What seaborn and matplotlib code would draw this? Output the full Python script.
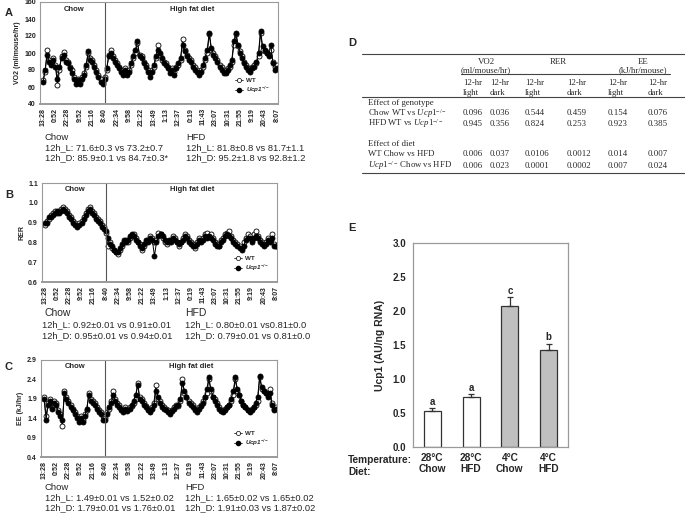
import numpy as np
import pandas as pd
import matplotlib
matplotlib.use("Agg")
import matplotlib.pyplot as plt
from matplotlib.lines import Line2D
import seaborn as sns

# --- dados das séries (leitura aproximada da figura) ---
time_labels = ["13:28", "0:52", "22:28", "9:52", "21:16", "8:40", "22:34", "9:58",
               "21:22", "13:49", "1:13", "12:37", "0:19", "11:43", "23:07", "10:31",
               "21:55", "9:19", "20:43", "8:07"]

vo2_wt = [68, 78, 104, 92, 88, 94,
          86, 62, 80, 96, 101, 92,
          90, 84, 80, 72, 68, 70,
          66, 72, 76, 84, 100, 94,
          92, 86, 80, 74, 70, 66,
          72, 80, 98, 104, 96, 92,
          88, 84, 80, 78, 82, 76,
          80, 86, 94, 100, 112, 98,
          96, 90, 86, 80, 76, 80,
          84, 94, 110, 98, 92, 90,
          88, 84, 80, 82, 78, 84,
          86, 92, 117, 104, 98, 94,
          92, 86, 84, 80, 76, 80,
          84, 92, 100, 122, 104, 100,
          96, 92, 86, 84, 80, 78,
          82, 84, 90, 110, 122, 108,
          102, 96, 90, 86, 82, 80,
          84, 86, 88, 96, 124, 104,
          102, 100, 98, 104, 90, 84,
          86]
vo2_ko = [66, 80, 98, 90, 86, 92,
          84, 70, 84, 94, 98, 90,
          88, 82, 76, 70, 64, 68,
          64, 70, 74, 86, 102, 92,
          90, 84, 78, 72, 66, 64,
          70, 82, 96, 100, 94, 90,
          86, 82, 78, 74, 80, 74,
          78, 88, 96, 104, 114, 96,
          94, 88, 84, 78, 72, 78,
          86, 96, 104, 100, 94, 88,
          86, 82, 76, 80, 74, 82,
          88, 94, 110, 102, 96, 92,
          90, 84, 80, 78, 74, 78,
          86, 94, 104, 124, 106, 98,
          94, 90, 84, 80, 76, 76,
          80, 86, 92, 114, 124, 110,
          100, 94, 88, 84, 80, 78,
          82, 84, 90, 100, 126, 108,
          104, 100, 96, 110, 88, 80,
          82]

rer_wt = [0.89, 0.91, 0.92, 0.94, 0.95, 0.96,
          0.95, 0.96, 0.97, 0.98, 0.97, 0.96,
          0.94, 0.93, 0.91, 0.90, 0.89, 0.90,
          0.91, 0.93, 0.95, 0.97, 0.98, 0.96,
          0.95, 0.93, 0.92, 0.91, 0.89, 0.88,
          0.85, 0.78, 0.80, 0.77, 0.76, 0.75,
          0.74, 0.76, 0.78, 0.80, 0.81, 0.80,
          0.82, 0.83, 0.84, 0.82, 0.80, 0.79,
          0.76, 0.78, 0.80, 0.81, 0.83, 0.82,
          0.80, 0.81, 0.85, 0.84, 0.82, 0.80,
          0.79, 0.80, 0.81, 0.83, 0.82, 0.80,
          0.78, 0.80, 0.82, 0.84, 0.83, 0.81,
          0.80, 0.79, 0.77, 0.80, 0.82, 0.81,
          0.82, 0.84, 0.85, 0.83, 0.84, 0.82,
          0.80, 0.79, 0.78, 0.81, 0.82, 0.84,
          0.85, 0.86, 0.83, 0.81, 0.80, 0.79,
          0.78, 0.77, 0.80, 0.82, 0.84, 0.83,
          0.81, 0.84, 0.86, 0.83, 0.81, 0.80,
          0.79, 0.80, 0.82, 0.81, 0.84, 0.79,
          0.78]
rer_ko = [0.90, 0.90, 0.93, 0.93, 0.94, 0.95,
          0.96, 0.95, 0.96, 0.97, 0.96, 0.95,
          0.93, 0.92, 0.90, 0.89, 0.88, 0.89,
          0.90, 0.92, 0.94, 0.96, 0.97, 0.95,
          0.94, 0.92, 0.91, 0.90, 0.88, 0.87,
          0.86, 0.82, 0.79, 0.78, 0.76, 0.75,
          0.75, 0.77, 0.79, 0.81, 0.80, 0.81,
          0.83, 0.84, 0.83, 0.81, 0.80, 0.78,
          0.77, 0.79, 0.81, 0.80, 0.82, 0.81,
          0.73, 0.80, 0.83, 0.84, 0.83, 0.81,
          0.80, 0.81, 0.80, 0.82, 0.81, 0.80,
          0.79, 0.80, 0.81, 0.83, 0.82, 0.80,
          0.79, 0.78, 0.78, 0.79, 0.81, 0.80,
          0.81, 0.83, 0.82, 0.83, 0.82, 0.81,
          0.79, 0.78, 0.78, 0.80, 0.81, 0.83,
          0.84, 0.83, 0.82, 0.80, 0.79, 0.78,
          0.77, 0.76, 0.78, 0.81, 0.82, 0.82,
          0.80, 0.82, 0.83, 0.82, 0.80, 0.79,
          0.78, 0.79, 0.81, 0.80, 0.82, 0.78,
          0.78]

ee_wt = [1.95, 1.45, 1.80, 1.90, 1.70, 1.85,
         1.80, 1.60, 1.50, 1.20, 2.10, 1.95,
         1.85, 1.75, 1.65, 1.55, 1.45, 1.40,
         1.45, 1.35, 1.50, 1.60, 2.05, 1.90,
         1.85, 1.80, 1.70, 1.60, 1.55, 1.45,
         1.40, 1.55, 1.65, 1.85, 2.10, 1.90,
         1.80, 1.75, 1.65, 1.60, 1.70, 1.62,
         1.68, 1.72, 1.80, 1.90, 2.30, 1.95,
         1.90, 1.80, 1.72, 1.65, 1.60, 1.70,
         1.80, 2.25, 1.90, 1.85, 1.75, 1.70,
         1.65, 1.60, 1.55, 1.62, 1.70, 1.75,
         1.72, 1.85, 2.40, 2.05, 1.95, 1.85,
         1.80, 1.75, 1.65, 1.60, 1.70, 1.75,
         1.85, 1.95, 2.05, 2.40, 2.10, 1.95,
         1.90, 1.80, 1.70, 1.62, 1.58, 1.65,
         1.70, 1.75, 1.85, 2.00, 2.40, 2.10,
         2.00, 1.85, 1.75, 1.70, 1.62, 1.58,
         1.65, 1.70, 1.75, 1.85, 2.45, 2.15,
         2.10, 2.05, 2.00, 2.15, 1.80, 1.65,
         1.70]
ee_ko = [1.90, 1.35, 1.75, 1.85, 1.65, 1.80,
         1.75, 1.55, 1.45, 1.35, 2.05, 1.90,
         1.80, 1.70, 1.60, 1.50, 1.40, 1.30,
         1.40, 1.30, 1.45, 1.65, 2.00, 1.85,
         1.80, 1.75, 1.65, 1.55, 1.50, 1.35,
         1.35, 1.50, 1.70, 1.80, 2.00, 1.85,
         1.75, 1.70, 1.60, 1.55, 1.65, 1.58,
         1.65, 1.75, 1.85, 2.00, 2.25, 1.90,
         1.85, 1.75, 1.68, 1.60, 1.55, 1.65,
         1.75, 2.10, 1.95, 1.80, 1.70, 1.65,
         1.60, 1.55, 1.50, 1.58, 1.65, 1.72,
         1.75, 1.90, 2.30, 2.10, 1.95, 1.80,
         1.75, 1.70, 1.60, 1.55, 1.65, 1.72,
         1.80, 1.95, 2.15, 2.45, 2.15, 1.95,
         1.85, 1.75, 1.65, 1.58, 1.55, 1.62,
         1.68, 1.75, 1.90, 2.10, 2.45, 2.15,
         2.00, 1.85, 1.75, 1.68, 1.60, 1.55,
         1.62, 1.70, 1.80, 1.95, 2.50, 2.20,
         2.10, 2.05, 1.95, 2.05, 1.75, 1.62,
         1.65]

vo2_stats_chow = ["Chow", "12h_L: 71.6±0.3 vs 73.2±0.7", "12h_D: 85.9±0.1 vs 84.7±0.3*"]
vo2_stats_hfd = ["HFD", "12h_L: 81.8±0.8 vs 81.7±1.1", "12h_D: 95.2±1.8 vs 92.8±1.2"]
rer_stats_chow = ["Chow", "12h_L: 0.92±0.01 vs 0.91±0.01", "12h_D: 0.95±0.01 vs 0.94±0.01"]
rer_stats_hfd = ["HFD", "12h_L: 0.80±0.01 vs0.81±0.0", "12h_D: 0.79±0.01 vs 0.81±0.0"]
ee_stats_chow = ["Chow", "12h_L: 1.49±0.01 vs 1.52±0.02", "12h_D: 1.79±0.01 vs 1.76±0.01"]
ee_stats_hfd = ["HFD", "12h_L: 1.65±0.02 vs 1.65±0.02", "12h_D: 1.91±0.03 vs 1.87±0.02"]

# --- tabela D ---
table_groups = ["VO2", "RER", "EE"]
table_units = ["(ml/mouse/hr)", "", "(kJ/hr/mouse)"]
table_periods = ["light", "dark", "light", "dark", "light", "dark"]
table_rows = ["Chow WT vs $\\mathit{Ucp1}^{-/-}$", "HFD WT vs $\\mathit{Ucp1}^{-/-}$",
              "WT Chow vs HFD", "$\\mathit{Ucp1}^{-/-}$ Chow vs HFD"]
table_values = [["0.096", "0.036", "0.544", "0.459", "0.154", "0.076"],
                ["0.945", "0.356", "0.824", "0.253", "0.923", "0.385"],
                ["0.006", "0.037", "0.0106", "0.0012", "0.014", "0.007"],
                ["0.006", "0.023", "0.0001", "0.0002", "0.007", "0.024"]]

# --- painel E ---
ucp1_groups = ["28°C\nChow", "28°C\nHFD", "4°C\nChow", "4°C\nHFD"]
ucp1_mean = [0.53, 0.74, 2.08, 1.42]
ucp1_sem = [0.04, 0.04, 0.12, 0.10]
ucp1_letters = ["a", "a", "c", "b"]
bar_colors = ["white", "white", "#c0c0c0", "#c0c0c0"]

# --- estilo ---
sns.set_style("white")
plt.rcParams["font.family"] = ["Liberation Sans", "DejaVu Sans"]
plt.rcParams["mathtext.fontset"] = "custom"
plt.rcParams["mathtext.rm"] = "Liberation Serif"
plt.rcParams["mathtext.it"] = "Liberation Serif:italic"
plt.rcParams["mathtext.sf"] = "Liberation Sans:italic:bold"

W, H = 685, 515
fig = plt.figure(figsize=(W / 100, H / 100), dpi=100)
ov = fig.add_axes([0, 0, 1, 1])
ov.set_xlim(0, W)
ov.set_ylim(H, 0)
ov.axis("off")


def px_rect(x0, y0, x1, y1):
    return [x0 / W, 1 - y1 / H, (x1 - x0) / W, (y1 - y0) / H]


tick_pos = np.arange(0, len(vo2_wt), 6)
grey = "#9a9a9a"


def draw_trace(rect, wt, ko, ylim, yticks, ylabel, fmt):
    ax = fig.add_axes(px_rect(*rect))
    df = pd.DataFrame({"idx": np.arange(len(wt)), "WT": wt, "KO": ko})
    common = dict(ax=ax, color="black", lw=0.7, marker="o", markersize=3.6,
                  markeredgecolor="black", markeredgewidth=0.6, estimator=None)
    sns.lineplot(data=df, x="idx", y="WT", markerfacecolor="white", **common)
    sns.lineplot(data=df, x="idx", y="KO", markerfacecolor="black", **common)
    div = tick_pos[5]
    ax.axvline(div, color="#555555", lw=0.8)
    ax.set_xlim(-1.5, len(wt) - 0.5)
    ax.set_ylim(*ylim)
    ax.set_yticks(yticks, [fmt.format(v) for v in yticks])
    ax.set_xticks(tick_pos, time_labels, rotation=90)
    ax.tick_params(axis="both", labelsize=5, length=1.5, width=0.5, pad=1.5,
                   colors="#222222")
    for lab in ax.get_xticklabels() + ax.get_yticklabels():
        lab.set_fontweight("bold")
    ax.set_xlabel("")
    ax.set_ylabel(ylabel, fontsize=5, fontweight="bold", labelpad=2)
    for s in ax.spines.values():
        s.set_color(grey)
        s.set_linewidth(0.8)
    ax.spines["bottom"].set_linewidth(1.4)
    ax.text(div / 2, 0.93, "Chow", transform=ax.get_xaxis_transform(),
            ha="center", va="center", fontsize=5.5, fontweight="bold")
    ax.text((div + len(wt)) / 2, 0.93, "High fat diet", transform=ax.get_xaxis_transform(),
            ha="center", va="center", fontsize=5.5, fontweight="bold")
    handles = [Line2D([], [], color="black", lw=0.5, marker="o", markersize=3,
                      markerfacecolor="white", markeredgecolor="black", markeredgewidth=0.5),
               Line2D([], [], color="black", lw=0.5, marker="o", markersize=3,
                      markerfacecolor="black", markeredgecolor="black")]
    ax.legend(handles, ["WT", "$\\mathsf{Ucp1}^{\\mathsf{-/-}}$"], loc="lower right",
              bbox_to_anchor=(0.99, 0.03), frameon=False,
              prop={"size": 4.5, "weight": "bold"}, handlelength=1.4,
              labelspacing=0.3, handletextpad=0.4)
    return ax


def stats_block(x, ys, lines, head_size=6.8):
    for i, (y, t) in enumerate(zip(ys, lines)):
        ov.text(x, y, t, ha="left", va="center", fontsize=head_size if i == 0 else 6.7)


# A
draw_trace((40, 2, 278, 104), vo2_wt, vo2_ko, (40, 160), [40, 60, 80, 100, 120, 140, 160],
           "VO2 (ml/mouse/hr)", "{:.0f}")
stats_block(45, [137, 147.5, 158], vo2_stats_chow)
stats_block(186, [137, 147.5, 158], vo2_stats_hfd)

# B
draw_trace((42, 183, 277, 282), rer_wt, rer_ko, (0.6, 1.1), [0.6, 0.7, 0.8, 0.9, 1.0, 1.1],
           "RER", "{:.1f}")
stats_block(45, [313], rer_stats_chow[:1], head_size=7.5)
stats_block(185, [313], rer_stats_hfd[:1], head_size=7.5)
for x, block in [(42, rer_stats_chow), (185, rer_stats_hfd)]:
    for y, t in zip([325, 335.5], block[1:]):
        ov.text(x, y, t, ha="left", va="center", fontsize=6.7)

# C
draw_trace((41, 360, 277, 457), ee_wt, ee_ko, (0.4, 2.9), [0.4, 0.9, 1.4, 1.9, 2.4, 2.9],
           "EE (kJ/hr)", "{:.1f}")
stats_block(45, [487, 497.5, 508], ee_stats_chow)
stats_block(185, [487, 497.5, 508], ee_stats_hfd)

# letras dos painéis
for lbl, x, y in [("A", 5, 13), ("B", 5, 195), ("C", 5, 367), ("D", 348, 43), ("E", 348, 228)]:
    ov.text(x, y, lbl, ha="left", va="center", fontsize=8, fontweight="bold")

# D - tabela
serif = ["Liberation Serif", "DejaVu Serif"]
tfs = 6.3
col_x = [463, 490, 525, 567, 608, 648]
for g, u, xc in zip(table_groups, table_units, [486, 558, 643]):
    ov.text(xc, 62, g, ha="center", va="center", fontsize=tfs, family=serif)
    if u:
        ov.text(xc, 70.5, u, ha="center", va="center", fontsize=tfs, family=serif)
for x, p in zip(col_x, table_periods):
    ov.text(x, 83, "12-hr", ha="left", va="center", fontsize=tfs, family=serif)
    ov.text(x, 93, p, ha="left", va="center", fontsize=tfs, family=serif)
ov.text(368, 103, "Effect of genotype", ha="left", va="center", fontsize=tfs, family=serif)
ov.text(368, 144, "Effect of diet", ha="left", va="center", fontsize=tfs, family=serif)
for y, name, vals in zip([113, 123.5, 154.5, 165.5], table_rows, table_values):
    ov.text(368, y, name, ha="left", va="center", fontsize=tfs, family=serif)
    for x, v in zip(col_x, vals):
        ov.text(x, y, v, ha="left", va="center", fontsize=tfs, family=serif)
for y, x0, x1 in [(54, 362, 685), (73.5, 461, 670), (96.5, 362, 685), (173, 362, 685)]:
    ov.plot([x0, x1], [y, y], color="#444444", lw=0.8)

# E - barras
axE = fig.add_axes(px_rect(413, 243, 568, 447))
sns.barplot(x=ucp1_groups, y=ucp1_mean, hue=ucp1_groups, palette=bar_colors, legend=False,
            width=0.44, edgecolor="#333333", linewidth=0.9, ax=axE)
xs = np.arange(len(ucp1_mean))
axE.errorbar(xs, ucp1_mean, yerr=[np.zeros(len(ucp1_sem)), ucp1_sem], fmt="none",
             ecolor="#333333", elinewidth=0.9, capsize=2.5, capthick=0.9)
for x, m, s, l in zip(xs, ucp1_mean, ucp1_sem, ucp1_letters):
    axE.text(x, m + s + 0.02, l, ha="center", va="bottom", fontsize=7, fontweight="bold")
axE.set_ylim(0, 3)
axE.set_xlim(-0.5, len(ucp1_mean) - 0.5)
yt = np.arange(0, 3.01, 0.5)
axE.set_yticks(yt, [f"{v:.1f}" for v in yt])
axE.set_xticks(xs, ucp1_groups)
axE.set_xticks(np.arange(-0.5, len(ucp1_mean)), minor=True)
axE.tick_params(axis="x", which="major", length=0, pad=4, labelsize=7.3)
axE.tick_params(axis="x", which="minor", length=3, width=0.8, color=grey, direction="out")
axE.tick_params(axis="y", length=3, width=0.8, color=grey, direction="out", labelsize=7, pad=2)
for lab in axE.get_xticklabels() + axE.get_yticklabels():
    lab.set_fontweight("bold")
    lab.set_linespacing(1.15)
axE.set_ylabel("Ucp1 (AU/ng RNA)", fontsize=7.5, fontweight="bold", labelpad=5)
for s in axE.spines.values():
    s.set_color(grey)
    s.set_linewidth(0.9)
ov.text(348, 460, "Temperature:", ha="left", va="center", fontsize=7.3, fontweight="bold")
ov.text(348, 472, "Diet:", ha="left", va="center", fontsize=7.3, fontweight="bold")

fig.savefig("out.png", dpi=100)
